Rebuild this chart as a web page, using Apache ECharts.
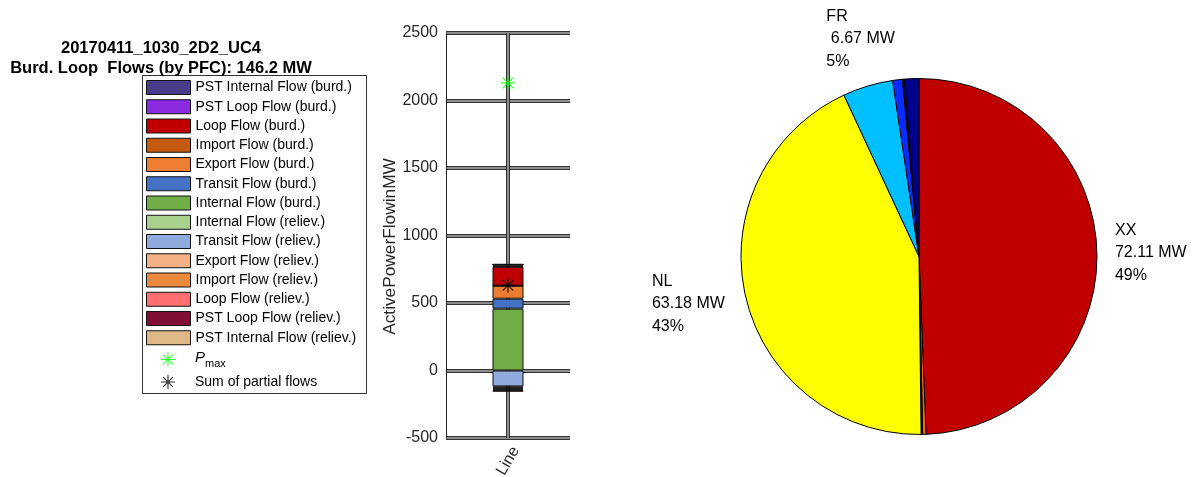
<!DOCTYPE html>
<html>
<head>
<meta charset="utf-8">
<script src="https://cdn.jsdelivr.net/npm/echarts@6/dist/echarts.min.js"></script>
<style>
html,body{margin:0;padding:0;background:#fff;}
#chart{width:1199px;height:477px;}
</style>
</head>
<body>
<div id="chart"></div>
<script>
// ---------- data ----------
const titleLines = ['20170411_1030_2D2_UC4', 'Burd. Loop  Flows (by PFC): 146.2 MW'];
const categories = ['Line'];
const yTicks = [-500, 0, 500, 1000, 1500, 2000, 2500];
const yAxisName = 'ActivePowerFlowinMW';

// legend order (top to bottom)
const flowNames = [
  'PST Internal Flow (burd.)', 'PST Loop Flow (burd.)', 'Loop Flow (burd.)', 'Import Flow (burd.)',
  'Export Flow (burd.)', 'Transit Flow (burd.)', 'Internal Flow (burd.)', 'Internal Flow (reliev.)',
  'Transit Flow (reliev.)', 'Export Flow (reliev.)', 'Import Flow (reliev.)', 'Loop Flow (reliev.)',
  'PST Loop Flow (reliev.)', 'PST Internal Flow (reliev.)'
];
const flowColors = [
  '#483D8B', '#8A2BE2', '#C00000', '#C55A11', '#ED7D31', '#4472C4', '#70AD47', '#A9D18E',
  '#8FAADC', '#F4B183', '#EE8A3E', '#FF6F6F', '#7F1034', '#DEB887'
];
const flowValues = [10, 8, 140, 0, 96, 74, 458, 0, -118, -8, -8, -8, -8, -5];
// stacking order: burdening flows from the bottom up, relieving flows from zero downwards
const stackOrder = [6, 5, 4, 3, 2, 1, 0, 7, 8, 9, 10, 11, 12, 13];

const pmaxName = 'Pmax';
const pmaxValues = [2130];
const sumName = 'Sum of partial flows';
const sumValues = [631];

const pieLabels = ['XX', '', '', 'NL', 'FR', '', '', ''];
const pieValues = [72.11, 0.45, 0.2, 63.18, 6.67, 1.3, 0.25, 1.9];
const pieColors = ['#C00000', '#FF6600', '#1a1a1a', '#FFFF00', '#00BFFF', '#0A2BFF', '#1a1a1a', '#00008F'];

// ---------- chart ----------
const FONT = '"Liberation Sans", Arial, Helvetica, sans-serif';
const ASTERISK = 'path://M0 9.2L20 9.2L20 10.8L0 10.8Z M9.2 0L10.8 0L10.8 20L9.2 20Z ' +
  'M3.49 2.36L17.64 16.5L16.5 17.64L2.36 3.49Z M17.64 3.49L3.49 17.64L2.36 16.5L16.5 2.36Z';

const chart = echarts.init(document.getElementById('chart'), null, {renderer: 'canvas'});

const barSeries = stackOrder.map((idx, k) => {
  const s = {
    name: flowNames[idx],
    type: 'bar',
    stack: 'flows',
    barWidth: 31,
    data: [flowValues[idx]],
    itemStyle: {color: flowColors[idx], borderColor: '#111', borderWidth: 1},
    emphasis: {disabled: true},
    z: 2,
    animation: false
  };
  if (k === 0) {
    s.markLine = {
      z: 1, silent: true, symbol: 'none', animation: false,
      label: {show: false},
      data: [
        {xAxis: categories[0], lineStyle: {color: '#333', width: 4, type: 'solid'}},
        {xAxis: categories[0], lineStyle: {color: '#8c8c8c', width: 2, type: 'solid'}}
      ]
    };
  }
  return s;
});

const pieTotal = pieValues.reduce((a, b) => a + b, 0);

const legendFlowData = flowNames.map((n, i) => ({
  name: n, icon: 'rect',
  itemStyle: {color: flowColors[i], borderColor: '#111', borderWidth: 1}
}));

const yMin = yTicks[0], yMax = yTicks[yTicks.length - 1], yStep = yTicks[1] - yTicks[0];

function legendText() {
  return {
    fontFamily: FONT, fontSize: 14, color: '#000',
    rich: {
      i: {fontFamily: FONT, fontSize: 15, fontStyle: 'italic', color: '#000', padding: [0, 0, 4, 0]},
      s: {fontFamily: FONT, fontSize: 11, color: '#000', padding: [8, 0, 0, 0]}
    }
  };
}

const option = {
  animation: false,
  textStyle: {fontFamily: FONT},
  title: {
    text: titleLines.join('\n'),
    left: 161, top: 38, padding: 0,
    textAlign: 'center',
    textStyle: {fontFamily: FONT, fontSize: 16.5, fontWeight: 'bold', color: '#000', lineHeight: 20}
  },
  graphic: [{
    type: 'rect', z: -10, silent: true,
    shape: {x: 142.5, y: 75.5, width: 224, height: 318},
    style: {fill: '#fff', stroke: '#333', lineWidth: 1}
  }],
  legend: [{
    orient: 'vertical',
    left: 142, top: 75,
    padding: [5, 10, 0, 4],
    itemWidth: 44, itemHeight: 14, itemGap: 4.25,
    selectedMode: false,
    data: legendFlowData,
    textStyle: legendText()
  }, {
    orient: 'vertical',
    left: 157, top: 350,
    padding: [0, 10, 0, 4],
    itemWidth: 44, itemHeight: 14, itemGap: 6,
    selectedMode: false,
    data: [{name: pmaxName}, {name: sumName}],
    formatter: function (name) {
      if (name === pmaxName) return '{i|P}{s|max}';
      return name;
    },
    textStyle: legendText()
  }],
  grid: {left: 446, right: 629, top: 33, bottom: 39, containLabel: false, outerBoundsMode: 'none'},
  xAxis: {
    type: 'category',
    data: categories,
    axisLine: {show: false},
    axisTick: {show: false},
    splitLine: {show: false},
    axisLabel: {rotate: 60, fontSize: 16, color: '#262626', fontFamily: FONT, margin: 23,
      align: 'center', verticalAlign: 'middle'}
  },
  yAxis: [{
    type: 'value',
    min: yMin, max: yMax, interval: yStep,
    name: yAxisName, nameLocation: 'middle', nameGap: 42,
    nameTextStyle: {fontSize: 17.3, color: '#262626', fontFamily: FONT, padding: [0, 22, 0, 0]},
    axisLine: {show: true, lineStyle: {color: '#262626', width: 1}},
    axisTick: {show: false},
    axisLabel: {fontSize: 16, color: '#262626', fontFamily: FONT, margin: 8,
      formatter: function (v) { return String(v); }},
    splitLine: {show: true, lineStyle: {color: '#333', width: 4}}
  }, {
    type: 'value',
    min: yMin, max: yMax, interval: yStep,
    position: 'left',
    axisLine: {show: false}, axisTick: {show: false}, axisLabel: {show: false},
    splitLine: {show: true, lineStyle: {color: '#8c8c8c', width: 2}}
  }],
  series: barSeries.concat([
    {
      name: pmaxName, type: 'scatter', data: pmaxValues,
      symbol: ASTERISK, symbolSize: 15, symbolKeepAspect: true,
      itemStyle: {color: '#00FF00'}, z: 10, emphasis: {disabled: true}
    },
    {
      name: sumName, type: 'scatter', data: sumValues,
      symbol: ASTERISK, symbolSize: 15, symbolKeepAspect: true,
      itemStyle: {color: '#000'}, z: 10, emphasis: {disabled: true}
    },
    {
      type: 'pie',
      center: [919, 256.5],
      radius: 178,
      startAngle: 90,
      clockwise: true,
      avoidLabelOverlap: false,
      percentPrecision: 2,
      emphasis: {disabled: true},
      itemStyle: {borderColor: '#000', borderWidth: 1},
      labelLine: {show: false, length: 18, length2: 0},
      label: {
        position: 'outside',
        distanceToLabelLine: 0,
        color: '#000',
        formatter: function (p) {
          const v = p.value;
          const mw = (v < 10 ? ' ' : '') + v.toFixed(2) + ' MW';
          const pct = Math.round(v / pieTotal * 100) + '%';
          return '{t|' + p.name + '}\n{t|' + mw + '}\n{t|' + pct + '}';
        },
        rich: {t: {fontFamily: FONT, fontSize: 16, color: '#000', lineHeight: 22.5, align: 'left'}}
      },
      labelLayout: function (params) {
        const n = pieLabels[params.dataIndex];
        if (n === 'FR') return {align: 'center', verticalAlign: 'bottom', dx: -2, dy: 4};
        if (n === 'NL') return {dx: -3, dy: 4};
        return {};
      },
      data: pieValues.map((v, i) => ({
        name: pieLabels[i], value: v,
        itemStyle: {color: pieColors[i]},
        label: {show: pieLabels[i] !== ''}
      }))
    }
  ])
};

chart.setOption(option);
</script>
</body>
</html>
